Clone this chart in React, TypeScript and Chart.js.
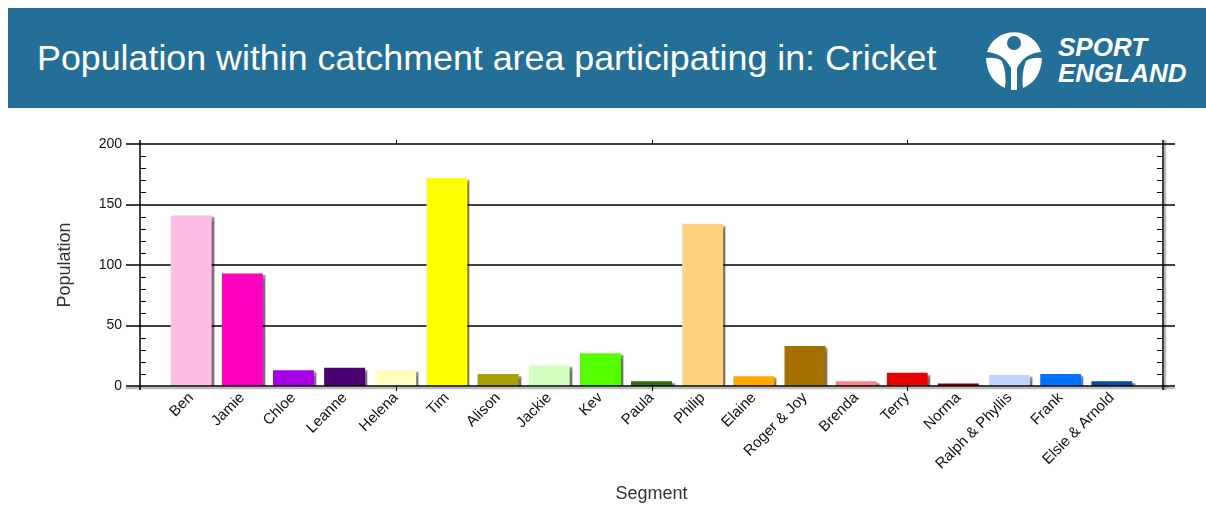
import React, { useEffect, useRef } from 'react';
import { Chart, registerables } from 'chart.js';

Chart.register(...registerables);

const TITLE = 'Population within catchment area participating in: Cricket';
const X_TITLE = 'Segment';
const Y_TITLE = 'Population';

const categories = [
  'Ben', 'Jamie', 'Chloe', 'Leanne', 'Helena', 'Tim', 'Alison', 'Jackie', 'Kev', 'Paula',
  'Philip', 'Elaine', 'Roger & Joy', 'Brenda', 'Terry', 'Norma', 'Ralph & Phyllis', 'Frank', 'Elsie & Arnold',
];
const values = [141, 93, 13, 15, 13, 172, 10, 17, 27, 4, 134, 8, 33, 4, 11, 2, 9, 10, 4];
const barColors = [
  '#FDBCE4', '#FF00BF', '#A800E6', '#4B0072', '#FFFFBF', '#FFFF00', '#A6A000', '#D0FFC0', '#55FF00', '#2F6B0A',
  '#FFD280', '#FFAA00', '#A67000', '#FF8080', '#E60000', '#800000', '#C0D4FF', '#0070FF', '#004DA8',
];

const Y_MIN = 0;
const Y_MAX = 200;
const Y_STEP = 50;
const Y_MINOR = 10;
const X_MIN = 0;
const X_MAX = 20;
const X_MAJOR = [5, 10, 15];

const FONT = "Arial, 'Liberation Sans', sans-serif";

const framePlugin = {
  id: 'frame',
  beforeDatasetsDraw(chart: any) {
    const { ctx, chartArea: a, scales } = chart;
    const y = scales.y;
    ctx.save();
    ctx.strokeStyle = '#000';
    ctx.lineWidth = 1.5;
    for (let v = Y_MIN + Y_STEP; v <= Y_MAX; v += Y_STEP) {
      const py = Math.round(y.getPixelForValue(v));
      ctx.beginPath();
      ctx.moveTo(a.left - 14, py);
      ctx.lineTo(a.right + 12, py);
      ctx.stroke();
    }
    ctx.restore();
    ctx.save();
    ctx.shadowColor = 'rgba(0,0,0,0.55)';
    ctx.shadowOffsetX = 3;
    ctx.shadowOffsetY = 2;
    ctx.shadowBlur = 1.5;
  },
  afterDatasetsDraw(chart: any) {
    const { ctx, chartArea: a, scales } = chart;
    ctx.restore();
    const y = scales.y;
    const x = scales.x;
    ctx.save();
    ctx.strokeStyle = '#000';
    ctx.lineWidth = 1;
    for (let v = Y_MIN + Y_MINOR; v < Y_MAX; v += Y_MINOR) {
      if (v % Y_STEP === 0) continue;
      const py = Math.round(y.getPixelForValue(v)) + 0.5;
      ctx.beginPath();
      ctx.moveTo(a.left, py);
      ctx.lineTo(a.left + 6, py);
      ctx.moveTo(a.right - 6, py);
      ctx.lineTo(a.right, py);
      ctx.stroke();
    }
    for (const xv of X_MAJOR) {
      const px = Math.round(x.getPixelForValue(xv)) + 0.5;
      ctx.beginPath();
      ctx.moveTo(px, a.top - 4);
      ctx.lineTo(px, a.top);
      ctx.moveTo(px, a.bottom);
      ctx.lineTo(px, a.bottom + 5);
      ctx.stroke();
    }
    ctx.lineWidth = 1.5;
    ctx.beginPath();
    ctx.moveTo(a.left, a.top - 4);
    ctx.lineTo(a.left, a.bottom + 4);
    ctx.stroke();
    ctx.shadowColor = 'rgba(0,0,0,0.45)';
    ctx.shadowBlur = 1.5;
    ctx.shadowOffsetX = 2;
    ctx.shadowOffsetY = 0;
    ctx.beginPath();
    ctx.moveTo(a.right, a.top - 4);
    ctx.lineTo(a.right, a.bottom + 4);
    ctx.stroke();
    ctx.shadowOffsetX = 0;
    ctx.shadowOffsetY = 2;
    const py0 = Math.round(y.getPixelForValue(Y_MIN));
    ctx.beginPath();
    ctx.moveTo(a.left - 14, py0);
    ctx.lineTo(a.right + 12, py0);
    ctx.stroke();
    ctx.restore();
  },
};

function Banner() {
  return (
    <svg width={1198} height={100} style={{ display: 'block', width: 1198, height: 100, flexShrink: 0 }}>
      <rect x={0} y={0} width={1198} height={100} fill="#236F97" />
      <text x={29} y={62} fill="#FFFFFF" fontFamily={FONT} fontSize={35.8}>
        {TITLE}
      </text>
      <g fill="#FFFFFF">
        <path d="M979,44 Q995,45 1003,60 L1003,82 L1009,82 L1009,60 Q1017,45 1033,44 A28,27 0 0 0 979,44 Z" />
        <circle cx={1006} cy={35} r={7} fill="#236F97" />
        <path d="M978,50 Q988,49 994,53 Q999,66 997,80 Q979,72 978,50 Z" />
        <path d="M1034,50 Q1024,49 1018,53 Q1013,66 1015,80 Q1033,72 1034,50 Z" />
      </g>
      <text x={1050} y={48} fill="#FFFFFF" fontFamily={FONT} fontSize={26} fontWeight="bold" fontStyle="italic">
        SPORT
      </text>
      <text x={1050} y={74} fill="#FFFFFF" fontFamily={FONT} fontSize={26} fontWeight="bold" fontStyle="italic">
        ENGLAND
      </text>
    </svg>
  );
}

export default function App() {
  const canvasRef = useRef<HTMLCanvasElement | null>(null);

  useEffect(() => {
    if (!canvasRef.current) return;
    const chart = new Chart(canvasRef.current, {
      type: 'bar',
      data: {
        datasets: [
          {
            data: values.map((v, i) => ({ x: i + 1, y: v })),
            backgroundColor: barColors,
            borderWidth: 0,
            barPercentage: 0.8,
            categoryPercentage: 1,
          },
        ],
      },
      options: {
        responsive: false,
        animation: false,
        layout: { padding: { top: 36, right: 43, left: 0, bottom: 0 } },
        plugins: { legend: { display: false }, tooltip: { enabled: false } },
        scales: {
          x: {
            type: 'linear',
            min: X_MIN,
            max: X_MAX,
            offset: false,
            grid: { display: false, drawTicks: false },
            border: { display: false },
            afterFit: (s: any) => {
              s.height = 122;
            },
            ticks: {
              stepSize: 1,
              autoSkip: false,
              minRotation: 45,
              maxRotation: 45,
              padding: 3,
              color: '#111',
              font: { family: FONT, size: 15 },
              callback: (v: any) => categories[Number(v) - 1] ?? '',
            },
            title: {
              display: true,
              text: X_TITLE,
              color: '#333',
              font: { family: FONT, size: 18 },
              padding: { top: 0, bottom: 3 },
            },
          },
          y: {
            min: Y_MIN,
            max: Y_MAX,
            grid: { display: false, drawTicks: false },
            border: { display: false },
            afterFit: (s: any) => {
              s.width = 132;
            },
            ticks: {
              stepSize: Y_STEP,
              padding: 18,
              color: '#111',
              font: { family: FONT, size: 14 },
            },
            title: {
              display: true,
              text: Y_TITLE,
              color: '#333',
              font: { family: FONT, size: 18 },
              padding: { top: 46, bottom: 0 },
            },
          },
        },
      } as any,
      plugins: [framePlugin],
    });
    return () => chart.destroy();
  }, []);

  return (
    <div style={{ padding: '8px 0 0 8px', width: 1198 }}>
      <style>{'html,body{margin:0;padding:0;overflow:hidden}'}</style>
      <Banner />
      <canvas ref={canvasRef} width={1198} height={400} style={{ display: 'block' }} />
    </div>
  );
}
